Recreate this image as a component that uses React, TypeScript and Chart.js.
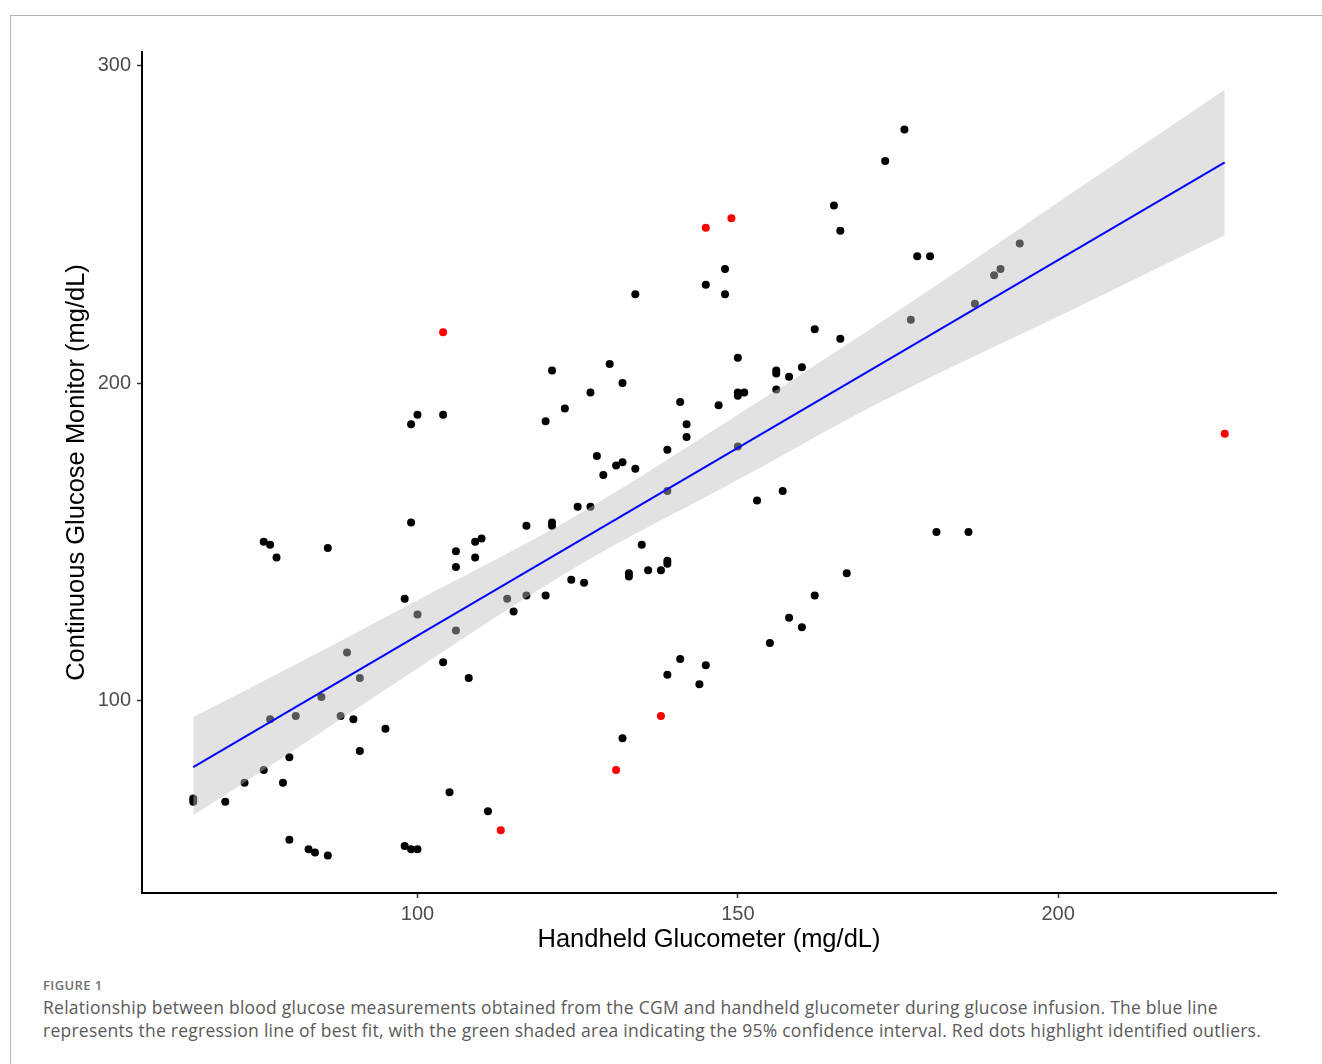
import React, { useEffect, useRef } from "react";
import { Chart, registerables } from "chart.js";

Chart.register(...registerables);

// Axis ticks
const xTicks = [100, 150, 200];
const yTicks = [100, 200, 300];

// Regular observations: handheld glucometer (x) vs CGM (y)
const handheld = [
  99, 117, 121, 121, 76, 77, 78, 86, 106, 106, 109, 110, 109, 98, 100, 114, 117, 120, 115, 106,
  89, 91, 85, 77, 81, 88, 90, 95, 104, 108, 91, 80, 76, 73, 79, 65, 65, 70, 105, 111,
  80, 83, 84, 86, 98, 99, 100, 100, 104, 99, 176, 173, 165, 166, 148, 145, 148, 134, 178, 180,
  177, 162, 166, 121, 130, 132, 127, 123, 120, 150, 156, 156, 158, 160, 156, 150, 150, 151, 141, 147,
  142, 142, 139, 150, 128, 131, 132, 134, 129, 139, 157, 153, 181, 125, 127, 135, 139, 139, 133, 133,
  136, 138, 124, 126, 167, 162, 158, 160, 155, 141, 145, 139, 144, 132, 187, 190, 191, 194, 186,
];
const cgm = [
  156, 155, 156, 155, 150, 149, 145, 148, 147, 142, 150, 151, 145, 132, 127, 132, 133, 133, 128, 122,
  115, 107, 101, 94, 95, 95, 94, 91, 112, 107, 84, 82, 78, 74, 74, 69, 68, 68, 71, 65,
  56, 53, 52, 51, 54, 53, 53, 190, 190, 187, 280, 270, 256, 248, 236, 231, 228, 228, 240, 240,
  220, 217, 214, 204, 206, 200, 197, 192, 188, 208, 204, 203, 202, 205, 198, 197, 196, 197, 194, 193,
  187, 183, 179, 180, 177, 174, 175, 173, 171, 166, 166, 163, 153, 161, 161, 149, 144, 143, 140, 139,
  141, 141, 138, 137, 140, 133, 126, 123, 118, 113, 111, 108, 105, 88, 225, 234, 236, 244, 153,
];

// Identified outliers
const outlierHandheld = [104, 145, 149, 226, 138, 131, 113];
const outlierCgm = [216, 249, 252, 184, 95, 78, 59];

// Regression line of best fit (end points)
const fitX = [65, 226];
const fitY = [78.9, 269.6];

// 95% confidence band
const bandX = [65, 80, 100, 125, 150, 169, 182, 200, 226];
const bandLower = [63.7, 83.3, 110, 142.3, 169.5, 190.6, 203.7, 221, 246.6];
const bandUpper = [94.7, 110.2, 131.5, 158.5, 190, 214.8, 232.2, 257, 292.5];

const TICK_FONT = { family: "'Liberation Sans', Arial, sans-serif", size: 20 };
const TITLE_FONT = { family: "'Liberation Sans', Arial, sans-serif", size: 25.5 };

function GlucoseChart() {
  const ref = useRef<HTMLCanvasElement | null>(null);

  useEffect(() => {
    if (!ref.current) return;
    const pts = handheld.map((x, i) => ({ x, y: cgm[i] }));
    const outs = outlierHandheld.map((x, i) => ({ x, y: outlierCgm[i] }));
    const upper = bandX.map((x, i) => ({ x, y: bandUpper[i] }));
    const lower = bandX.map((x, i) => ({ x, y: bandLower[i] }));
    const fit = fitX.map((x, i) => ({ x, y: fitY[i] }));

    const chart = new Chart(ref.current, {
      type: "scatter",
      data: {
        datasets: [
          {
            label: "points",
            data: pts,
            backgroundColor: "#000000",
            pointRadius: 4,
            pointBorderWidth: 0,
            borderWidth: 0,
            order: 3,
          },
          {
            label: "outliers",
            data: outs,
            backgroundColor: "#FF0000",
            pointRadius: 4,
            pointBorderWidth: 0,
            borderWidth: 0,
            order: 0,
          },
          {
            label: "upper",
            data: upper,
            showLine: true,
            fill: "+1",
            backgroundColor: "rgba(190,190,190,0.45)",
            borderWidth: 0,
            borderColor: "rgba(0,0,0,0)",
            pointRadius: 0,
            cubicInterpolationMode: "monotone",
            order: 2,
          },
          {
            label: "lower",
            data: lower,
            showLine: true,
            fill: false,
            borderWidth: 0,
            borderColor: "rgba(0,0,0,0)",
            pointRadius: 0,
            cubicInterpolationMode: "monotone",
            order: 2,
          },
          {
            label: "fit",
            data: fit,
            showLine: true,
            fill: false,
            borderColor: "#0000FF",
            borderWidth: 2,
            pointRadius: 0,
            order: 1,
          },
        ],
      },
      options: {
        animation: false,
        responsive: false,
        layout: { padding: { left: 57, right: 46, top: 52, bottom: 0 } },
        plugins: {
          legend: { display: false },
          tooltip: { enabled: false },
        },
        scales: {
          x: {
            type: "linear",
            min: 57,
            max: 234,
            afterBuildTicks: (s: any) => {
              s.ticks = xTicks.map((v) => ({ value: v }));
            },
            afterFit: (s: any) => {
              s.height = 67;
            },
            grid: {
              drawOnChartArea: false,
              drawTicks: true,
              tickLength: 5,
              tickColor: "#333333",
              tickWidth: 1.5,
            },
            border: { display: true, color: "#000000", width: 2 },
            ticks: { color: "#4D4D4D", font: TICK_FONT, padding: 4, maxRotation: 0 },
            title: {
              display: true,
              text: "Handheld Glucometer (mg/dL)",
              color: "#000000",
              font: TITLE_FONT,
              padding: { top: 4.7, bottom: 4.7 },
            },
          },
          y: {
            type: "linear",
            min: 39.2,
            max: 304.4,
            afterBuildTicks: (s: any) => {
              s.ticks = yTicks.map((v) => ({ value: v }));
            },
            afterFit: (s: any) => {
              s.width = 85;
            },
            grid: {
              drawOnChartArea: false,
              drawTicks: true,
              tickLength: 5,
              tickColor: "#333333",
              tickWidth: 1.5,
            },
            border: { display: true, color: "#000000", width: 2 },
            ticks: { color: "#4D4D4D", font: TICK_FONT, padding: 6 },
            title: {
              display: true,
              text: "Continuous Glucose Monitor (mg/dL)",
              color: "#000000",
              font: TITLE_FONT,
              padding: { top: 4.7, bottom: 4.7 },
            },
          },
        },
      },
    });
    return () => chart.destroy();
  }, []);

  return (
    <canvas
      ref={ref}
      width={1322}
      height={960}
      style={{ position: "absolute", left: 0, top: 0, width: 1322, height: 960 }}
    />
  );
}

export default function App() {
  return (
    <div
      style={{
        position: "absolute",
        left: 0,
        top: 0,
        width: 1322,
        height: 1064,
        overflow: "hidden",
        background: "#ffffff",
      }}
    >
      <div
        style={{
          position: "absolute",
          left: 10,
          top: 15,
          width: 1400,
          height: 1100,
          borderTop: "1px solid #b4b4b4",
          borderLeft: "1px solid #b4b4b4",
        }}
      />
      <GlucoseChart />
      <div
        style={{
          position: "absolute",
          left: 43,
          top: 976,
          fontFamily: "'Open Sans', 'Noto Sans', sans-serif",
          fontSize: 13,
          fontWeight: 600,
          color: "#707070",
          letterSpacing: 0.4,
        }}
      >
        FIGURE 1
      </div>
      <div
        style={{
          position: "absolute",
          left: 43,
          top: 996,
          width: 1270,
          whiteSpace: "nowrap",
          fontFamily: "'Open Sans', 'Noto Sans', sans-serif",
          fontSize: 17.5,
          letterSpacing: 0.25,
          lineHeight: "23px",
          color: "#5a5a5a",
        }}
      >
        Relationship between blood glucose measurements obtained from the CGM and handheld glucometer during glucose infusion. The blue line
        <br />
        represents the regression line of best fit, with the green shaded area indicating the 95% confidence interval. Red dots highlight identified outliers.
      </div>
    </div>
  );
}
